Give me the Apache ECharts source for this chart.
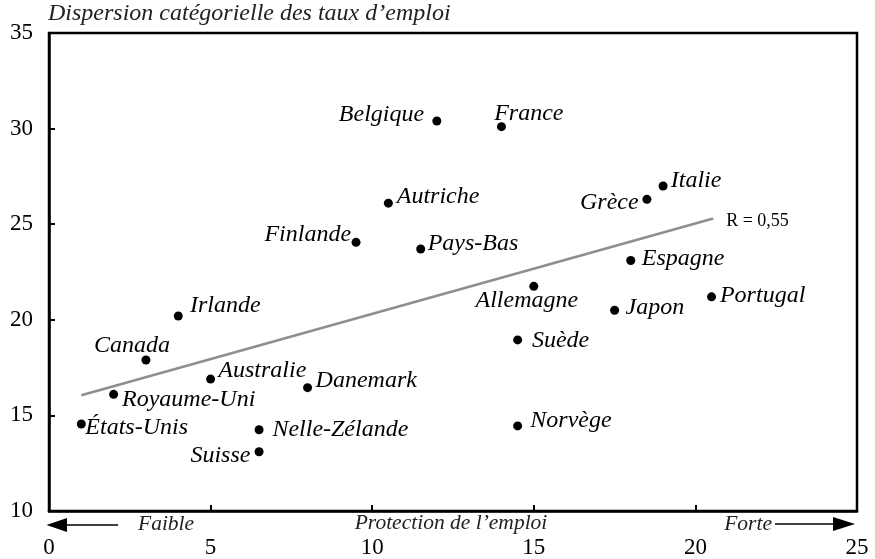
<!DOCTYPE html>
<html>
<head>
<meta charset="utf-8">
<script src="https://cdn.jsdelivr.net/npm/echarts@6/dist/echarts.min.js"></script>
<style>
html,body{margin:0;padding:0;background:#fff;}
#chart{width:875px;height:559px;}
</style>
</head>
<body>
<div id="chart"></div>
<script>
// ---- data ----
var countries = ['Irlande','Canada','Australie','Danemark','Royaume-Uni','États-Unis','Nelle-Zélande','Suisse',
  'Belgique','France','Autriche','Finlande','Pays-Bas','Italie','Grèce','Espagne','Allemagne','Japon','Portugal','Suède','Norvège'];
var protection = [4.0, 3.0, 5.0, 8.0, 2.0, 1.0, 6.5, 6.5, 12.0, 14.0, 10.5, 9.5, 11.5, 19.0, 18.5, 18.0, 15.0, 17.5, 20.5, 14.5, 14.5];
var dispersion = [20.2, 17.9, 16.9, 16.45, 16.1, 14.55, 14.25, 13.1, 30.4, 30.1, 26.1, 24.05, 23.7, 27.0, 26.3, 23.1, 21.75, 20.5, 21.2, 18.95, 14.45];
var trendX = [1.0, 20.55];
var trendY = [16.05, 25.3];
var xTicks = [0, 5, 10, 15, 20, 25];
var yTicks = [10, 15, 20, 25, 30, 35];

// ---- label placement (style, not data) ----
var place = {
  'Irlande':['left',11.7,-10.7], 'Canada':['center',-14,-14], 'Australie':['left',7.7,-8.3],
  'Danemark':['left',8,-7.3], 'Royaume-Uni':['left',8.4,5.7], 'États-Unis':['left',4,4],
  'Nelle-Zélande':['left',13.3,0], 'Suisse':['right',-8.7,3.5], 'Belgique':['right',-12.7,-6],
  'France':['left',-7.3,-12.7], 'Autriche':['left',8.4,-6], 'Finlande':['right',-5,-7.3],
  'Pays-Bas':['left',7,-5.6], 'Italie':['left',7.7,-5], 'Grèce':['right',-8.3,3],
  'Espagne':['left',11,-1.7], 'Allemagne':['center',-7,14], 'Japon':['left',11,-3],
  'Portugal':['left',8.4,-0.7], 'Suède':['left',14.3,1], 'Norvège':['left',12.7,-5.7]
};

var FONT = '"Liberation Serif","Times New Roman",serif';

var scatterData = countries.map(function(c, i){
  var p = place[c];
  return {
    name: c,
    value: [protection[i], dispersion[i]],
    label: {
      show: true, formatter: c, position: 'inside', align: p[0], verticalAlign: 'middle',
      offset: [p[1], p[2]], fontFamily: FONT, fontStyle: 'italic', fontSize: 24, color: '#000'
    }
  };
});

var chart = echarts.init(document.getElementById('chart'), null, {renderer:'canvas'});
chart.setOption({
  animation: false,
  backgroundColor: '#fff',
  grid: {left: 49, right: 18, top: 33, bottom: 48, show: true, borderColor: '#000', borderWidth: 2.5, backgroundColor: 'transparent'},
  xAxis: {
    type: 'value', min: xTicks[0], max: xTicks[xTicks.length-1], interval: 5,
    splitLine: {show: false},
    axisLine: {lineStyle: {color: '#000', width: 2.5}},
    axisTick: {inside: true, length: 6, lineStyle: {color: '#000', width: 2}},
    axisLabel: {margin: 25, fontFamily: FONT, fontSize: 23, color: '#000'}
  },
  yAxis: {
    type: 'value', min: yTicks[0], max: yTicks[yTicks.length-1], interval: 5,
    splitLine: {show: false},
    axisLine: {show: true, lineStyle: {color: '#000', width: 2.5}},
    axisTick: {show: true, inside: true, length: 6, lineStyle: {color: '#000', width: 2}},
    axisLabel: {margin: 16, fontFamily: FONT, fontSize: 23, color: '#000'}
  },
  series: [
    {
      type: 'line', data: trendX.map(function(x, i){ return [x, trendY[i]]; }),
      symbol: 'none', lineStyle: {color: '#8e8e8e', width: 2.5}, silent: true, z: 1,
      endLabel: {show: true, formatter: 'R = 0,55', fontFamily: FONT, fontSize: 18, color: '#000', distance: 5, offset: [8, 3]}
    },
    {
      type: 'scatter', data: scatterData, symbol: 'circle', symbolSize: 9,
      itemStyle: {color: '#000', opacity: 1}, z: 3
    }
  ],
  graphic: [
    {type: 'text', left: 48, top: 2, style: {text: 'Dispersion catégorielle des taux d\u2019emploi', font: 'italic 24px ' + FONT, fill: '#222'}},
    {type: 'text', x: 451, y: 523, style: {text: 'Protection de l\u2019emploi', font: 'italic 21.5px ' + FONT, fill: '#222', textAlign: 'center', textVerticalAlign: 'middle'}},
    {type: 'text', x: 138, y: 524, style: {text: 'Faible', font: 'italic 21.5px ' + FONT, fill: '#222', textAlign: 'left', textVerticalAlign: 'middle'}},
    {type: 'text', x: 772, y: 524, style: {text: 'Forte', font: 'italic 21.5px ' + FONT, fill: '#222', textAlign: 'right', textVerticalAlign: 'middle'}},
    {type: 'line', shape: {x1: 66, y1: 525, x2: 118, y2: 525}, style: {stroke: '#000', lineWidth: 1.5}},
    {type: 'polygon', shape: {points: [[46.5, 525], [67, 518], [67, 532]]}, style: {fill: '#000'}},
    {type: 'line', shape: {x1: 775, y1: 524, x2: 834, y2: 524}, style: {stroke: '#000', lineWidth: 1.5}},
    {type: 'polygon', shape: {points: [[855, 524], [833, 517], [833, 531]]}, style: {fill: '#000'}}
  ]
});
</script>
</body>
</html>
